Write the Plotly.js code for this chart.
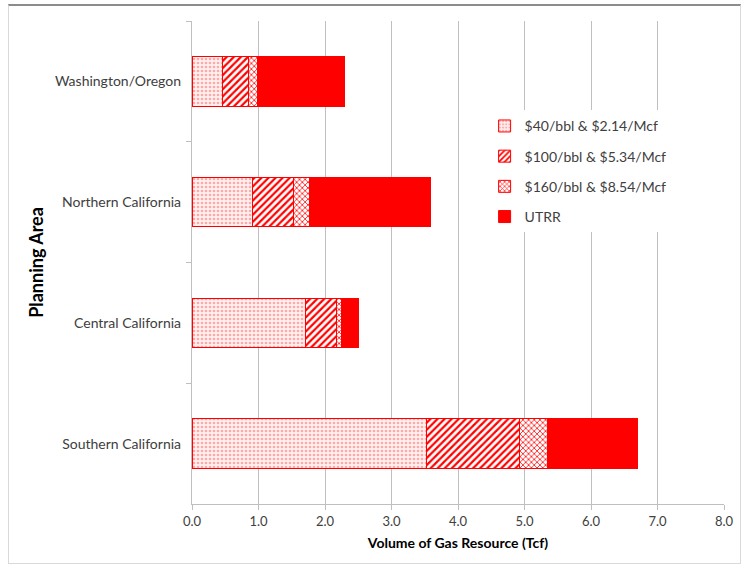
<!DOCTYPE html>
<html><head><meta charset="utf-8">
<script src="https://cdn.plot.ly/plotly-3.0.1.min.js"></script>
<style>body{margin:0;background:#fff}#frame{position:absolute;left:8px;top:4px;width:733px;height:560px;border:1px solid #d9d9d9;border-top:2px solid #8c8c8c;box-sizing:border-box;pointer-events:none}</style>
</head><body>
<div id="chart" style="width:746px;height:571px"></div>
<div id="frame"></div>
<script>
const categories = ["Washington/Oregon", "Northern California", "Central California", "Southern California"];
const seriesNames = ["$40/bbl & $2.14/Mcf", "$100/bbl & $5.34/Mcf", "$160/bbl & $8.54/Mcf", "UTRR"];
const price40 = [0.46, 0.91, 1.70, 3.53];
const price100 = [0.39, 0.62, 0.48, 1.40];
const price160 = [0.14, 0.24, 0.07, 0.42];
const utrr = [1.30, 1.81, 0.25, 1.35];
const xTickVals = [0,1,2,3,4,5,6,7,8];
const xTickText = ["0.0","1.0","2.0","3.0","4.0","5.0","6.0","7.0","8.0"];

const patterns = [
  {shape: ".", fgcolor: "#ffa8a8", bgcolor: "#fff0f0", size: 4, solidity: 0.35},
  {shape: "/", fgcolor: "#ff0000", bgcolor: "#ffffff", size: 5, solidity: 0.45},
  {shape: "x", fgcolor: "#ff0000", bgcolor: "#ffffff", size: 4, solidity: 0.35},
  null
];
const values = [price40, price100, price160, utrr];
const traces = values.map((v, i) => {
  const marker = {color: "#ff0000", line: {color: "#ff0000", width: 1}};
  if (patterns[i]) marker.pattern = patterns[i];
  return {type: "bar", orientation: "h", y: categories, x: v, name: seriesNames[i], legendgroup: "g" + i, marker: marker, hoverinfo: "x+name"};
});
const fam = "Lato, Liberation Sans, Arial, sans-serif";
Plotly.newPlot("chart", traces, {
  width: 746, height: 571,
  barmode: "stack", bargap: 0.59,
  margin: {l: 192, r: 22, t: 21, b: 67},
  paper_bgcolor: "rgba(0,0,0,0)", plot_bgcolor: "#fff",
  font: {family: fam, size: 13, color: "#404040"},
  showlegend: true,
  legend: {x: 0.55, y: 0.815, xanchor: "left", yanchor: "top", traceorder: "grouped", font: {family: fam, size: 14, color: "#404040"}, itemwidth: 30, tracegroupgap: 9, bgcolor: "rgba(255,255,255,1)"},
  xaxis: {range: [0, 8], tickvals: xTickVals, ticktext: xTickText, showgrid: true, gridcolor: "#bfbfbf", gridwidth: 1,
    showline: true, linecolor: "#bfbfbf", ticks: "outside", ticklen: 5, tickcolor: "#bfbfbf", zeroline: false,
    tickfont: {family: fam, size: 13, color: "#404040"},
    title: {text: "<b>Volume of Gas Resource (Tcf)</b>", font: {family: fam, size: 14, color: "#000"}, standoff: 10}},
  yaxis: {categoryorder: "array", categoryarray: categories, autorange: "reversed", showline: true, linecolor: "#bfbfbf",
    ticks: "outside", tickson: "boundaries", ticklen: 5, tickcolor: "#bfbfbf", showgrid: false,
    tickfont: {family: fam, size: 14, color: "#404040"}, ticksuffix: "  ",
    title: {text: "<b>Planning Area</b>", font: {family: fam, size: 18, color: "#000"}, standoff: 6}}
}, {displayModeBar: false, staticPlot: true});
</script>
</body></html>
